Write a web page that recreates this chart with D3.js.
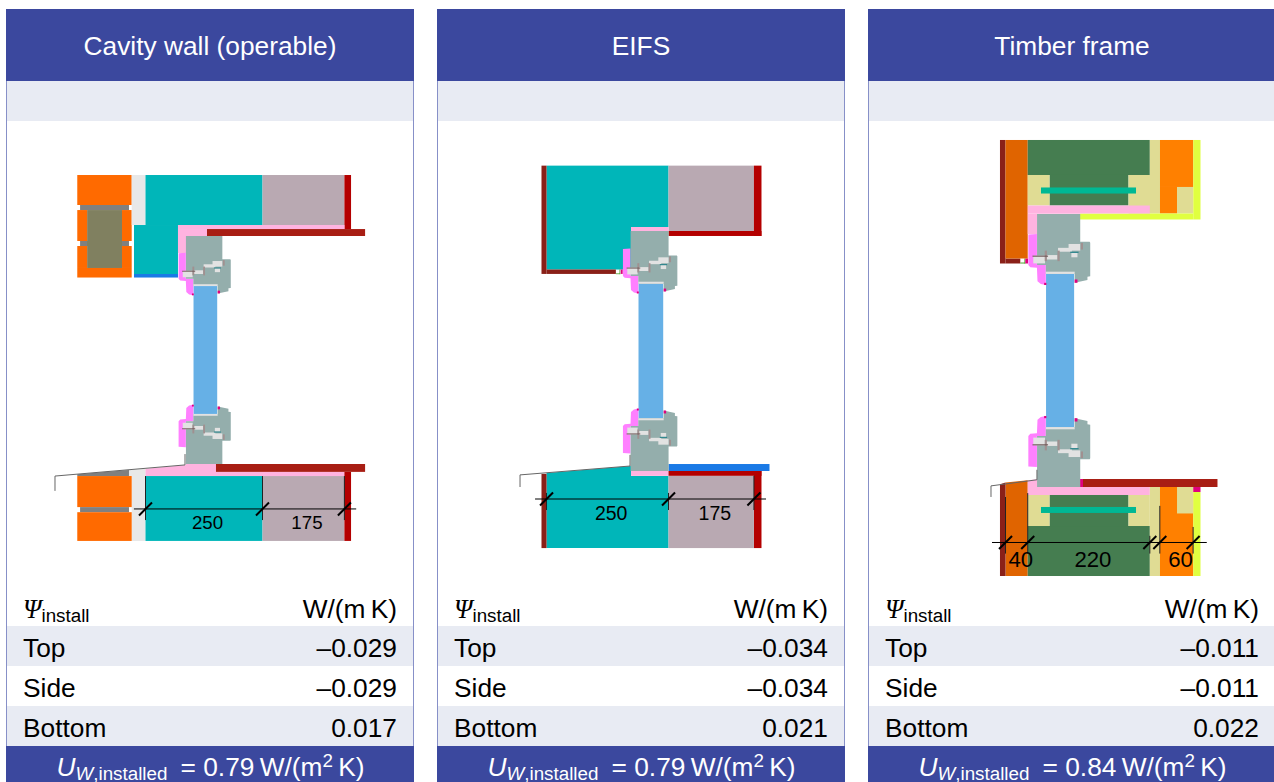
<!DOCTYPE html>
<html>
<head>
<meta charset="utf-8">
<title>Window installation details</title>
<script src="https://cdn.jsdelivr.net/npm/d3@7"></script>
<style>
    body { margin: 0; background: #fff; }
    svg { display: block; }
    text { font-family: "Liberation Sans", Arial, sans-serif; }
</style>
</head>
<body>
<div id="chart"></div>
<script>
// Table values
const titles = ["Cavity wall (operable)", "EIFS", "Timber frame"];
const rows = ["Top", "Side", "Bottom"];
const psiCavity = ["–0.029", "–0.029", "0.017"];
const psiEifs = ["–0.034", "–0.034", "0.021"];
const psiTimber = ["–0.011", "–0.011", "0.022"];
const uValues = ["0.79", "0.79", "0.84"];

// Wall layer thicknesses in mm, "" = not labelled in the drawing
const dimsCavity = [250, 175];
const dimsEifs = [250, 175];
const dimsTimber = [40, 220, 18, 60];
const dimLabelsTimber = ["40", "220", "", "60"];

// Section drawings, everything in mm: x from the glass centre, y from the window head
// rect parts = [material, x0, x1, y0, y1], polygon parts = [material, points]
const windowHeight = 492;

const profileOutline = [[-41.8, 0], [36, 0], [36, 50], [53, 50], [54, 52], [54, 112], [49, 113], [49, 119], [26, 124], [26, 108], [-26, 108], [-26, 92], [-41.8, 92]];
const gasketOutline = [[-57.5, 37], [-42, 36], [-42, 92], [-26, 92], [-26, 128], [-35, 126], [-41, 121], [-42, 97], [-54, 96], [-57.5, 92]];
const profileParts = [
    ["gap", -48.6, -27.4, 75, 89],
    ["gap", -26, -5, 74, 82],
    ["gap", -4, 21, 61, 68],
    ["gap", 15, 36, 54, 66],
    ["gap", 20, 31, 70, 78],
    ["seal", 18, 33, 68, 70],
    ["metal", 37, 41, 52, 64],
    ["metal", -5, -1, 66, 85],
    ["metal", -28, -24, 66, 85],
    ["steel", -50, -22, 75, 77],
    ["gap", -26, 26, 104, 108],
    ["crimson", 26, 31, 118, 124],
    ["crimson", -29, -25, 124, 128]
];
const glassPart = ["glass", -25.6, 25, 108, windowHeight - 108];

const cavityParts = [
    ["brick", -274, -157.7, -131.6, -66.9],
    ["mortar", -268, -163.5, -66.9, -56],
    ["mortar", -268, -163.5, 10.8, 21.6],
    ["olive", -253, -178.4, -56, 69],
    ["brick", -274, -253, -56, 10.8],
    ["brick", -178.4, -157.7, -56, 10.8],
    ["brick", -274, -253, 21.6, 69],
    ["brick", -178.4, -157.7, 21.6, 69],
    ["brick", -274, -157.7, 69, 89.6],
    ["cavity", -157.7, -128.2, -131.6, -23.7],
    ["teal", -128.2, 121.8, -131.6, -23.7],
    ["teal", -152.8, -58.8, -23.7, 82],
    ["blue", -152.8, -58.8, 82, 89.6],
    ["mauve", 121.8, 296.8, -131.6, -23.7],
    ["red", 296.8, 311, -131.6, -15],
    ["pink", -58.8, 296.8, -23.7, -15],
    ["pink", -58.8, -41.7, -15, 36.7],
    ["pink", -41.7, 3.2, -15, 0],
    ["sill", 3.2, 341, -15, 0],
    ["brick", -274, -157.7, 518, 585],
    ["mortar", -268, -163.5, 585, 596],
    ["brick", -274, -157.7, 596, 658],
    ["teal", -128.2, 121.8, 518, 658],
    ["mauve", 121.8, 296.8, 518, 658],
    ["red", 296.8, 311, 509, 658],
    ["sill", 22.4, 341, 492, 509]
];
const cavityPolys = [
    ["mortar", [[-274, 514], [-163.5, 505], [-163.5, 518], [-274, 518]]],
    ["cavity", [[-163.5, 505], [-128.2, 502], [-128.2, 658], [-157.7, 658], [-157.7, 518], [-163.5, 518]]],
    ["pink", [[-128.2, 502], [-41.7, 494], [-41.7, 492], [22.4, 492], [22.4, 509], [296.8, 509], [296.8, 518], [-128.2, 518]]]
];
const cavityLine = [[-321.6, 550], [-321.6, 518], [-43.8, 494], [-43.8, 470.6]];

const eifsParts = [
    ["teal", -214.1, 35.9, -134, -8.2],
    ["teal", -214.1, -41, -8.2, 79],
    ["rust", -224.4, -214.1, -134, 88],
    ["rust", -214.1, -72, 79, 88],
    ["green2", -72, -63, 87, 88.5],
    ["green2", -64.5, -63, 79, 88.5],
    ["crimson", -62, -58, 79, 88],
    ["mauve", 35.9, 210.9, -134, 0],
    ["red", 210.9, 226.4, -134, 10.2],
    ["red", 35.9, 226.4, 0, 10.2],
    ["pink", -41, 35.9, -8.2, 0],
    ["pink", -41, 35.9, 492, 502],
    ["blue", 35.9, 242.8, 477.7, 492],
    ["red", 35.9, 226.4, 492, 502],
    ["red", 210.9, 226.4, 492, 650],
    ["mauve", 35.9, 210.9, 502, 650],
    ["rust", -224.4, -214.1, 498, 650]
];
const eifsPolys = [
    ["teal", [[-214.1, 496], [-41, 481.8], [-41, 502], [35.9, 502], [35.9, 650], [-214.1, 650]]]
];
const eifsLine = [[-268.4, 524.8], [-268.4, 500], [-43, 481.8], [-43, 459]];

const timberParts = [
    ["rust", -108.6, -98.6, -133.4, 89.2],
    ["rust", -98.6, -72, 80.2, 89.2],
    ["green2", -72, -63, 87.5, 89.2],
    ["green2", -64.5, -63, 80.2, 89.2],
    ["crimson", -63, -58, 80.2, 89.2],
    ["timber", -98.6, -58.6, -133.4, 80.2],
    ["wood", -58.6, 161.4, -133.4, -70.3],
    ["wood", -19.4, 123, -70.3, -15.3],
    ["fill", -58.6, -19.4, -70.3, -15.3],
    ["fill", 123, 179.7, -70.3, -0.9],
    ["fill", 161.4, 179.7, -133.4, -70.3],
    ["bar", -34.7, 136.5, -47.8, -36.9],
    ["orange", 179.7, 239.7, -133.4, -48.7],
    ["orange", 179.7, 210.4, -48.7, -0.9],
    ["fill", 210.4, 239.7, -48.7, -0.9],
    ["yellow", 239.7, 252.7, -133.4, 9.9],
    ["yellow", 35.6, 239.7, -0.9, 9.9],
    ["pink", -58.6, 161.4, -15.3, -0.9],
    ["pink", -58.6, -41.9, -0.9, 36],
    ["pink", -41.9, 35.6, -0.9, 0],
    ["wood", -58.6, 161.4, 562.3, 652.4],
    ["wood", -19.4, 123, 506.4, 562.3],
    ["fill", -58.6, -19.4, 506.4, 562.3],
    ["fill", 123, 161.4, 506.4, 562.3],
    ["fill", 161.4, 179.7, 492, 652.4],
    ["bar", -34.7, 136.5, 528, 538.8],
    ["orange", 179.7, 239.7, 492, 652.4],
    ["fill", 210.4, 239.7, 492, 539.7],
    ["yellow", 239.7, 252.7, 501, 652.4],
    ["crimson", 239.7, 252.7, 492, 501],
    ["sill", 41, 283.3, 477.6, 492],
    ["crimson", 35.6, 41, 477.6, 492]
];
const timberPolys = [
    ["timber", [[-98.6, 484], [-58.6, 480], [-58.6, 652.4], [-98.6, 652.4]]],
    ["rust", [[-108.6, 487], [-98.6, 484], [-98.6, 652.4], [-108.6, 652.4]]],
    ["pink", [[-58.6, 480], [-41.9, 478], [-41.9, 492], [161.4, 492], [161.4, 506.4], [-58.6, 506.4]]]
];
const timberLine = [[-124.8, 510], [-124.8, 490], [-42, 479], [-42, 461]];

// One colour per material
const materials = d3.scaleOrdinal()
    .domain(["brick", "mortar", "olive", "cavity", "teal", "blue", "mauve", "red", "pink", "sill", "rust", "timber", "wood", "fill", "bar", "orange", "yellow", "crimson", "green2", "frame", "gasket", "glass", "gap", "seal", "metal", "steel"])
    .range(["#ff6a00", "#808080", "#808060", "#e8e8e8", "#00b6b9", "#1a7ae6", "#b9a9b2", "#b40000", "#ffb3e0", "#a81e14", "#8a2018", "#e06400", "#457d50", "#e0dc94", "#00b894", "#ff8000", "#e0ff40", "#e0007f", "#40a020", "#94aeac", "#ff80ff", "#66b0e6", "#e2e2e2", "#20808a", "#a09090", "#705858"]);

// Page layout
const width = 1274;
const height = 782;
const headerColor = "#3b489e";
const bandColor = "#e8ebf3";
const bodySize = "26.3px";
const subSize = "18.8px";

const svg = d3.select("#chart")
    .append("svg")
    .attr("width", width)
    .attr("height", height);

const panelX = d3.scaleBand()
    .domain(titles)
    .range([6, 1276])
    .paddingInner(23 / 431)
    .paddingOuter(0);
const panelWidth = panelX.bandwidth();

const rowY = d3.scaleBand()
    .domain(rows)
    .range([626, 746]);

// Setup for each panel: drawing scale, position and the parts above
const sections = [
    {
        psi: psiCavity, xRange: [205.5, 0.468], yRange: [236, 464], parts: cavityParts, polys: cavityPolys, line: cavityLine,
        dims: dimsCavity, labels: dimsCavity, dimStart: -128.2, dimY: 589, dimEnds: [-153, 322],
        tickTop: [518, 518, 518], tickBottom: 613
    },
    {
        psi: psiEifs, xRange: [651, 0.488], yRange: [231, 471], parts: eifsParts, polys: eifsPolys, line: eifsLine,
        dims: dimsEifs, labels: dimsEifs, dimStart: -214.1, dimY: 549.4, dimEnds: [-237.6, 235.7],
        tickTop: [537, 537, 502], tickBottom: 572
    },
    {
        psi: psiTimber, xRange: [1060.25, 0.555], yRange: [214, 487], parts: timberParts, polys: timberPolys, line: timberLine,
        dims: dimsTimber, labels: dimLabelsTimber, dimStart: -98.6, dimY: 592, dimEnds: [-123, 264],
        tickTop: [510, 503, 580, 526, 564], tickBottom: 612
    }
];

titles.forEach(function (title, i) {
    const s = sections[i];
    const left = panelX(title);
    const right = left + panelWidth;
    const g = svg.append("g");

    // Panel frame and bands
    g.append("rect")
        .attr("x", left + 0.5).attr("y", 9.5)
        .attr("width", panelWidth - 1).attr("height", height)
        .attr("fill", "#fff").attr("stroke", "#8790c8");
    g.append("rect")
        .attr("x", left).attr("y", 9)
        .attr("width", panelWidth).attr("height", 72)
        .attr("fill", headerColor);
    g.append("rect")
        .attr("x", left + 1).attr("y", 81)
        .attr("width", panelWidth - 2).attr("height", 40)
        .attr("fill", bandColor);
    g.append("text")
        .attr("x", left + panelWidth / 2).attr("y", 55)
        .attr("text-anchor", "middle")
        .attr("fill", "#fff")
        .style("font-size", bodySize)
        .text(title);

    // mm -> px scales of this section
    const x = d3.scaleLinear()
        .domain([0, 100])
        .range([s.xRange[0], s.xRange[0] + 100 * s.xRange[1]]);
    const y = d3.scaleLinear()
        .domain([0, windowHeight])
        .range(s.yRange);
    const yFlip = d3.scaleLinear()
        .domain([0, windowHeight])
        .range([s.yRange[1], s.yRange[0]]);

    const drawRects = function (data, yScale) {
        g.append("g")
            .selectAll("rect")
            .data(data)
            .enter()
            .append("rect")
            .attr("x", d => x(d[1]))
            .attr("width", d => x(d[2]) - x(d[1]))
            .attr("y", d => Math.min(yScale(d[3]), yScale(d[4])))
            .attr("height", d => Math.abs(yScale(d[4]) - yScale(d[3])))
            .attr("fill", d => materials(d[0]));
    };
    const drawPoly = function (name, points, yScale) {
        g.append("polygon")
            .attr("points", points.map(p => [x(p[0]), yScale(p[1])].join(",")).join(" "))
            .attr("fill", materials(name));
    };

    // Wall layers
    s.polys.forEach(p => drawPoly(p[0], p[1], y));
    drawRects(s.parts, y);

    // Window: the sill profile is the head profile upside down
    drawRects([glassPart], y);
    [y, yFlip].forEach(function (yScale) {
        drawPoly("gasket", gasketOutline, yScale);
        drawPoly("frame", profileOutline, yScale);
        drawRects(profileParts, yScale);
    });

    // Thin outline of the reveal / sill
    g.append("path")
        .attr("d", d3.line().x(p => x(p[0])).y(p => y(p[1]))(s.line))
        .attr("fill", "none")
        .attr("stroke", "#666")
        .attr("stroke-width", 1);

    // Dimension line
    const edges = d3.cumsum([s.dimStart].concat(s.dims));
    const labelSize = 40 * s.xRange[1];
    g.append("line")
        .attr("x1", x(s.dimEnds[0])).attr("x2", x(s.dimEnds[1]))
        .attr("y1", y(s.dimY)).attr("y2", y(s.dimY))
        .attr("stroke", "#000").attr("stroke-width", 1);
    edges.forEach(function (edge, k) {
        g.append("line")
            .attr("x1", x(edge)).attr("x2", x(edge))
            .attr("y1", y(s.tickTop[k])).attr("y2", y(s.tickBottom))
            .attr("stroke", "#222").attr("stroke-width", 1);
        g.append("line")
            .attr("x1", x(edge) - 6.5).attr("x2", x(edge) + 6.5)
            .attr("y1", y(s.dimY) + 6.5).attr("y2", y(s.dimY) - 6.5)
            .attr("stroke", "#000").attr("stroke-width", 2);
    });
    g.selectAll(".dim")
        .data(s.labels)
        .enter()
        .append("text")
        .attr("class", "dim")
        .attr("x", (d, k) => x((edges[k] + edges[k + 1]) / 2 + 7.5))
        .attr("y", y(s.dimY + 44))
        .attr("text-anchor", "middle")
        .attr("fill", "#000")
        .style("font-size", labelSize + "px")
        .text(d => d);

    // Table header
    const psiText = g.append("text")
        .attr("x", left + 17).attr("y", 618)
        .style("font-size", bodySize);
    psiText.append("tspan")
        .style("font-family", "'Liberation Serif', serif")
        .style("font-style", "italic")
        .text("Ψ");
    psiText.append("tspan")
        .attr("dy", 4)
        .style("font-size", subSize)
        .text("install");
    g.append("text")
        .attr("x", right - 17).attr("y", 618)
        .attr("text-anchor", "end")
        .style("font-size", bodySize)
        .text("W/(m\u2009K)");

    // Table rows
    rows.forEach(function (row, k) {
        if (k % 2 === 0) {
            g.append("rect")
                .attr("x", left + 1).attr("y", rowY(row))
                .attr("width", panelWidth - 2).attr("height", rowY.bandwidth())
                .attr("fill", bandColor);
        }
        g.append("text")
            .attr("x", left + 17).attr("y", rowY(row) + 31)
            .style("font-size", bodySize)
            .text(row);
        g.append("text")
            .attr("x", right - 17).attr("y", rowY(row) + 31)
            .attr("text-anchor", "end")
            .style("font-size", bodySize)
            .text(s.psi[k]);
    });

    // Footer with the installed U-value, cut off by the page edge like the original
    g.append("rect")
        .attr("x", left).attr("y", 746)
        .attr("width", panelWidth).attr("height", 36)
        .attr("fill", headerColor);
    const foot = g.append("text")
        .attr("x", left + panelWidth / 2 + 0.5).attr("y", 776)
        .attr("text-anchor", "middle")
        .attr("fill", "#fff")
        .style("font-size", bodySize);
    foot.append("tspan").style("font-style", "italic").text("U");
    foot.append("tspan").attr("dy", 4).style("font-size", subSize).style("font-style", "italic").text("W");
    foot.append("tspan").style("font-size", subSize).text(",installed");
    foot.append("tspan").attr("dy", -4).text("\u2002= " + uValues[i] + "\u2009W/(m");
    foot.append("tspan").attr("dy", -9).style("font-size", subSize).text("2");
    foot.append("tspan").attr("dy", 9).text("\u2009K)");
});
</script>
</body>
</html>
